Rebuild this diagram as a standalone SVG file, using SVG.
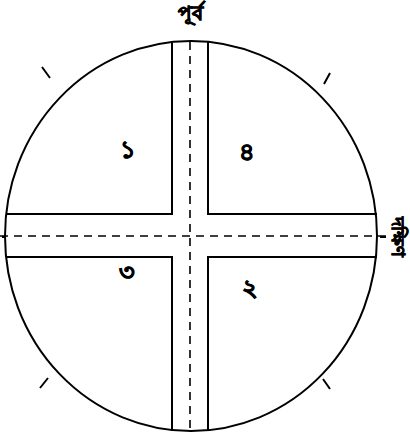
<svg xmlns="http://www.w3.org/2000/svg" width="410" height="433" viewBox="0 0 410 433">
<style>
.s{fill:none;stroke:#000;stroke-width:2}
.d{fill:none;stroke:#000;stroke-width:1.6;stroke-dasharray:8 6}
.t{font-family:"Noto Sans","Noto Sans CJK SC",sans-serif;fill:#000;stroke:#000;stroke-width:0.8;font-weight:bold}
</style>
<rect width="410" height="433" fill="#fff"/>
<g id="circle"><ellipse class="s" cx="191" cy="236" rx="186" ry="195"/></g>
<g id="connectors">
<path class="s" d="M172,41V214H6M208,41V214H377M172,431V257H6M208,431V257H377"/>
<path class="d" d="M190,42V430M0,236H388"/>
<path class="s" d="M42,67L50,78M330,73L324,84M40,388L48,378M323,379L330,389M380,237H386M2,237H6"/>
</g>
<g id="top-label"><text class="t" x="190" y="20" font-size="20" text-anchor="middle">পূর্ব</text></g>
<g id="right-label"><text class="t" font-size="18" text-anchor="middle" transform="translate(392,237) rotate(90)">দক্ষিণ</text></g>
<g id="q1"><text class="t" x="128" y="158" font-size="24" text-anchor="middle">১</text></g>
<g id="q4"><text class="t" x="247" y="160" font-size="24" text-anchor="middle">৪</text></g>
<g id="q3"><text class="t" x="127" y="280" font-size="24" text-anchor="middle">৩</text></g>
<g id="q2"><text class="t" x="250" y="296" font-size="24" text-anchor="middle">২</text></g>
</svg>
